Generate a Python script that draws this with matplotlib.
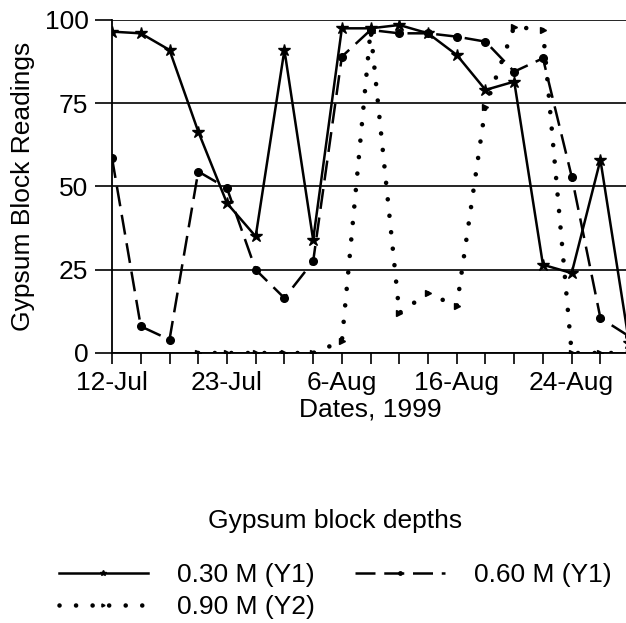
import numpy as np
import matplotlib
matplotlib.use("Agg")
import matplotlib.pyplot as plt

plt.rcParams['font.family'] = ['Liberation Sans', 'DejaVu Sans']

# dates of the readings (categorical positions)
fechas = ['12-Jul', '14-Jul', '16-Jul', '20-Jul', '23-Jul', '26-Jul', '28-Jul',
          '30-Jul', '6-Aug', '9-Aug', '11-Aug', '13-Aug', '16-Aug', '18-Aug',
          '20-Aug', '22-Aug', '24-Aug', '26-Aug', '28-Aug']
etiquetas = ['12-Jul', '23-Jul', '6-Aug', '16-Aug', '24-Aug']

prof_030 = [96.5, 96, 91, 66.5, 45, 35, 91, 34, 97.5, 97.5, 98.5, 96,
            89.5, 79, 81.5, 26.5, 24, 58, 3]
prof_060 = [58.5, 8, 4, 54.5, 49.5, 25, 16.5, 27.5, 89, 97, 96, 96,
            95, 93.5, 84.5, 88.5, 53, 10.5, 5]
prof_090 = [np.nan, np.nan, np.nan, 0, 0, 0, 0, 0, 3.5, 97, 12, 18,
            14, 74, 98, 97, 0, 0, 0]

fig = plt.figure(figsize=(6.26, 6.23), dpi=100)
ax = fig.add_axes([0.179, 0.4334, 0.826, 0.5345])

x = np.arange(len(fechas))
l1, = ax.plot(x, prof_030, color='black', lw=1.8, marker='*', ms=9,
              label='0.30 M (Y1)')
l2, = ax.plot(x, prof_060, color='black', lw=1.8, linestyle=(0, (8, 3.5)),
              marker='o', ms=5.5, label='0.60 M (Y1)')
l3, = ax.plot(x, prof_090, color='black', lw=3.3, linestyle=(0, (0.01, 3.6)),
              dash_capstyle='round', marker='>', ms=5, label='0.90 M (Y2)')

ax.set_xlim(0, 18)
ax.set_ylim(0, 100)
ax.set_yticks([0, 25, 50, 75, 100])
ax.yaxis.grid(True, color='black', lw=1.2)
ax.set_axisbelow(True)

ax.set_xticks(x)
ax.set_xticklabels([f if f in etiquetas and i % 4 == 0 else '' for i, f in enumerate(fechas)])
ax.tick_params(axis='x', length=8, width=1.2, labelsize=19, pad=5)
ax.tick_params(axis='y', length=12, width=1.2, labelsize=19, pad=5)

for s in ['top', 'right']:
    ax.spines[s].set_visible(False)
ax.spines['left'].set_linewidth(1.3)
ax.spines['bottom'].set_linewidth(1.3)

ax.set_ylabel('Gypsum Block Readings', fontsize=19, labelpad=7)
ax.set_xlabel('Dates, 1999', fontsize=19, labelpad=2)

leg = fig.legend(handles=[l1, l3, l2], ncol=2, frameon=False,
                 title='Gypsum block depths', title_fontsize=19, fontsize=19,
                 loc='center', bbox_to_anchor=(0.535, 0.095),
                 handlelength=3.4, handletextpad=1.1, columnspacing=1.5,
                 labelspacing=0.3, markerscale=0.45)
leg._legend_box.sep = 22

fig.savefig('out.png', dpi=100)
